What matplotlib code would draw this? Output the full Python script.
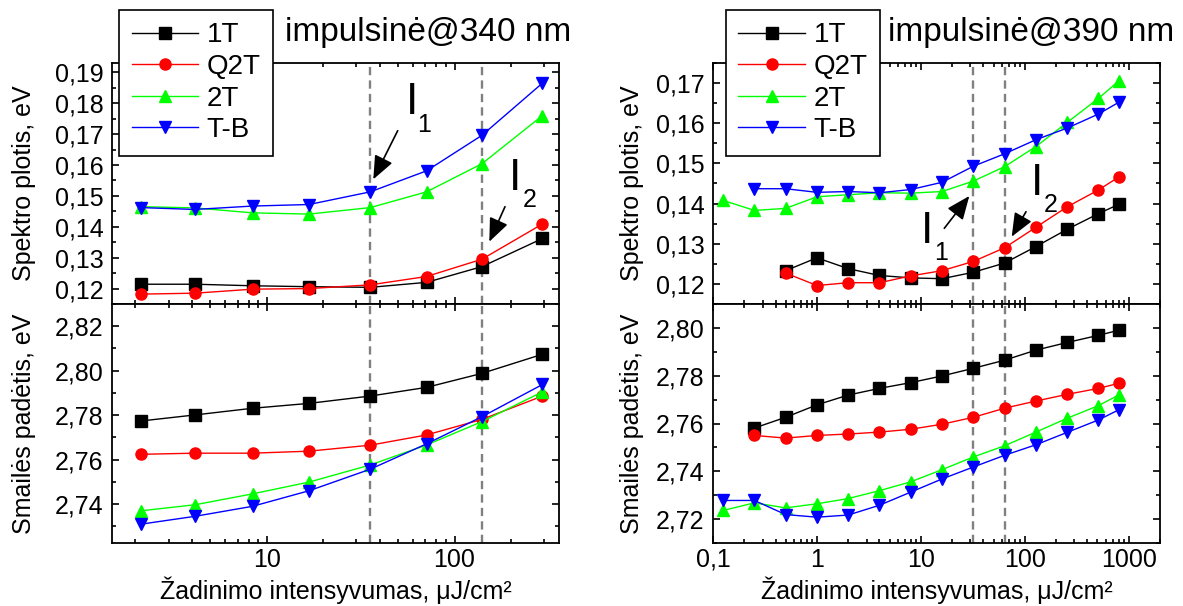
import numpy as np
import matplotlib
matplotlib.use('Agg')
import matplotlib.pyplot as plt
from matplotlib.ticker import FuncFormatter, MultipleLocator, LogLocator, NullFormatter

plt.rcParams['font.family'] = ['Liberation Sans', 'DejaVu Sans']

nan = np.nan
W, H = 1183, 606

# series style
names = ['1T', 'Q2T', '2T', 'T-B']
colors = ['#000000', '#ff0000', '#00ff00', '#0000ff']
markers = ['s', 'o', '^', 'v']

# ---- 340 nm excitation ----
x340 = [2.15, 4.15, 8.4, 16.8, 35.6, 71, 140, 294]
width340 = [
    [0.1214, 0.1214, 0.1209, 0.1206, 0.1204, 0.1220, 0.1271, 0.1362],  # 1T
    [0.1182, 0.1185, 0.1198, 0.1200, 0.1212, 0.1239, 0.1295, 0.1409],  # Q2T
    [0.1465, 0.1461, 0.1445, 0.1441, 0.1462, 0.1513, 0.1604, 0.1760],  # 2T
    [0.1462, 0.1456, 0.1467, 0.1472, 0.1513, 0.1581, 0.1696, 0.1865],  # T-B
]
peak340 = [
    [2.7774, 2.7801, 2.7831, 2.7853, 2.7886, 2.7925, 2.7988, 2.8074],
    [2.7624, 2.7629, 2.7629, 2.7638, 2.7665, 2.7711, 2.7781, 2.7886],
    [2.7370, 2.7397, 2.7446, 2.7499, 2.7576, 2.7666, 2.7771, 2.7905],
    [2.7310, 2.7345, 2.7390, 2.7460, 2.7557, 2.7671, 2.7793, 2.7938],
]
thr340 = [35.6, 140]

# ---- 390 nm excitation ----
x390 = [0.125, 0.25, 0.5, 1, 2, 4, 8, 16, 32, 64, 128, 256, 512, 800]
width390 = [
    [nan, nan, 0.1233, 0.1265, 0.1238, 0.1221, 0.1215, 0.1213, 0.1229, 0.1252, 0.1293, 0.1336, 0.1375, 0.1398],
    [nan, nan, 0.1227, 0.1196, 0.1203, 0.1203, 0.1220, 0.1233, 0.1256, 0.1290, 0.1341, 0.1392, 0.1434, 0.1466],
    [0.1408, 0.1383, 0.1388, 0.1417, 0.1422, 0.1427, 0.1426, 0.1430, 0.1456, 0.1492, 0.1542, 0.1602, 0.1662, 0.1705],
    [nan, 0.1437, 0.1437, 0.1428, 0.1430, 0.1427, 0.1435, 0.1453, 0.1493, 0.1524, 0.1559, 0.1588, 0.1623, 0.1652],
]
peak390 = [
    [nan, 2.7581, 2.7626, 2.7678, 2.7719, 2.7747, 2.7771, 2.7799, 2.7831, 2.7865, 2.7907, 2.7939, 2.7969, 2.7990],
    [nan, 2.7550, 2.7539, 2.7550, 2.7556, 2.7564, 2.7576, 2.7597, 2.7626, 2.7664, 2.7694, 2.7722, 2.7747, 2.7768],
    [2.7236, 2.7268, 2.7247, 2.7264, 2.7286, 2.7319, 2.7356, 2.7407, 2.7460, 2.7507, 2.7564, 2.7622, 2.7675, 2.7719],
    [2.7278, 2.7278, 2.7219, 2.7208, 2.7217, 2.7258, 2.7313, 2.7368, 2.7418, 2.7467, 2.7511, 2.7563, 2.7615, 2.7657],
]
thr390 = [32, 64]

xfmt = FuncFormatter(lambda v, p: ('%g' % v).replace('.', ','))
yfmt = FuncFormatter(lambda v, p: ('%.2f' % v).replace('.', ','))

fig = plt.figure(figsize=(W / 100, H / 100), dpi=100)


def style_axis(ax, ymaj, ymin):
    ax.set_xscale('log')
    ax.xaxis.set_major_locator(LogLocator(base=10))
    ax.xaxis.set_minor_locator(LogLocator(base=10, subs=np.arange(2, 10)))
    ax.xaxis.set_minor_formatter(NullFormatter())
    ax.xaxis.set_major_formatter(xfmt)
    ax.yaxis.set_major_locator(MultipleLocator(ymaj))
    ax.yaxis.set_minor_locator(MultipleLocator(ymin))
    ax.yaxis.set_major_formatter(yfmt)
    ax.tick_params(which='both', direction='in', top=True, right=True,
                   width=1.2, labelsize=18, pad=6)
    ax.tick_params(axis='x', which='both', pad=3.5)
    ax.tick_params(which='major', length=5)
    ax.tick_params(which='minor', length=3)
    for s in ax.spines.values():
        s.set_linewidth(1.3)


def panel(left, x, top_data, bot_data, thr, xlim, ylim_top, ylim_bot,
          ytop_step, ybot_step, leg_x, lab_x):
    w = 447 / W
    ax_t = fig.add_axes([left, 1 - 304 / H, w, 241 / H])
    ax_b = fig.add_axes([left, 1 - 543 / H, w, 239 / H], sharex=ax_t)
    handles = []
    for ax, data in ((ax_t, top_data), (ax_b, bot_data)):
        for t in thr:
            ax.axvline(t, color='#808080', lw=1.7, ls=(0, (3.5, 2.2)), zorder=1)
        for i in range(4):
            h, = ax.plot(x, data[i], color=colors[i], marker=markers[i],
                         markersize=9 if markers[i] in '^v' else 8,
                         lw=1, label=names[i], zorder=3 + i)
            if ax is ax_t:
                handles.append(h)
    style_axis(ax_t, ytop_step, ytop_step / 2)
    style_axis(ax_b, ybot_step, ybot_step / 2)
    ax_t.set_xlim(*xlim)
    ax_t.set_ylim(*ylim_top)
    ax_b.set_ylim(*ylim_bot)
    ax_t.tick_params(labelbottom=False)
    ax_t.set_ylabel('Spektro plotis, eV', fontsize=18)
    ax_b.set_ylabel('Smailės padėtis, eV', fontsize=18)
    ax_t.yaxis.set_label_coords(lab_x, 0.5)
    ax_b.yaxis.set_label_coords(lab_x, 0.5)
    ax_b.set_xlabel('Žadinimo intensyvumas, μJ/cm²', fontsize=18)
    ax_b.xaxis.label.set_va('baseline')
    ax_b.xaxis.set_label_coords(0.5, (543 - 599) / 239)
    leg = ax_t.legend(handles, names, loc='upper left',
                      bbox_to_anchor=(leg_x / W, 1 - 10 / H),
                      bbox_transform=fig.transFigure, fontsize=20,
                      fancybox=False, edgecolor='black', framealpha=1,
                      borderpad=0.45, labelspacing=0.2, handlelength=2.4,
                      handletextpad=0.3, borderaxespad=0)
    leg.get_frame().set_linewidth(1.2)
    return ax_t, ax_b


axL, axLb = panel(112 / W, x340, width340, peak340, thr340, (1.5, 360),
                  (0.115, 0.193), (2.7225, 2.83), 0.01, 0.02, 119, -0.17)
axR, axRb = panel(713 / W, x390, width390, peak390, thr390, (0.1, 2000),
                  (0.115, 0.175), (2.71, 2.81), 0.01, 0.02, 726, -0.155)

fig.text(285 / W, 1 - 33 / H, 'impulsinė@340 nm', fontsize=24, va='center')
fig.text(888 / W, 1 - 33 / H, 'impulsinė@390 nm', fontsize=24, va='center')


def mark(ax, sub, ipos, spos, tail, tip):
    fig.text(ipos[0] / W, 1 - ipos[1] / H, 'I', fontsize=32, ha='center', va='baseline')
    fig.text(spos[0] / W, 1 - spos[1] / H, sub, fontsize=18, ha='center', va='baseline')
    ax.annotate('', xy=(tip[0], H - tip[1]), xycoords='figure pixels',
                xytext=(tail[0], H - tail[1]), textcoords='figure pixels',
                annotation_clip=False,
                arrowprops=dict(arrowstyle='-|>,head_length=0.6,head_width=0.25',
                                mutation_scale=24, color='black', lw=1.2,
                                shrinkA=0, shrinkB=0))


mark(axL, '1', (412, 114), (424, 132), (397.7, 130.7), (373.3, 179.3))
mark(axL, '2', (515.5, 190), (530, 207), (505, 206.7), (489.3, 241.7))
mark(axR, '1', (927.5, 243), (941, 260), (944.3, 228.3), (969.3, 196))
mark(axR, '2', (1037.5, 195), (1051, 212), (1026, 211.7), (1011.7, 236.7))

fig.savefig('out.png', dpi=100)
